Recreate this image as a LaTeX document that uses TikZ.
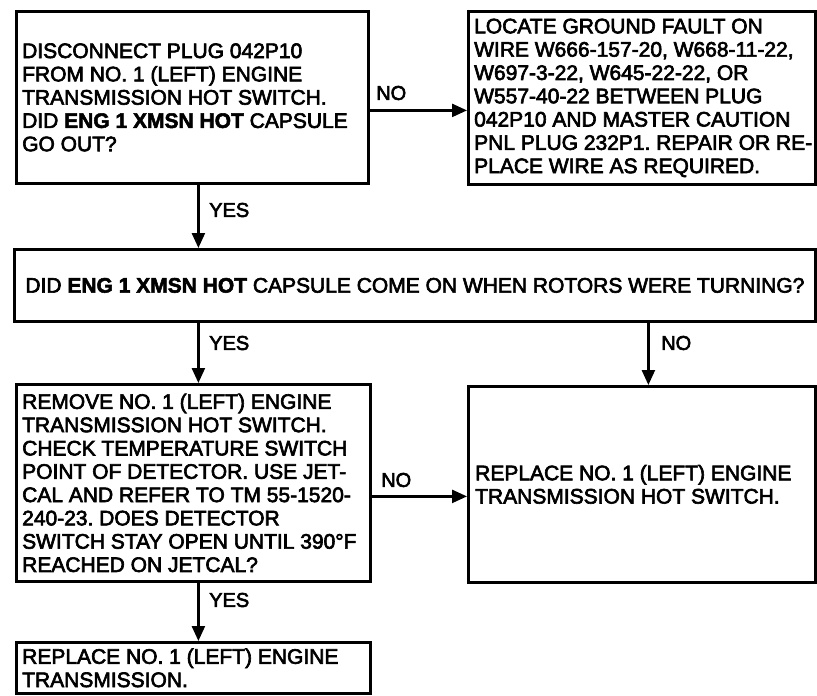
\documentclass[tikz,border=0pt]{standalone}
\usepackage{fontspec}
\setmainfont{Liberation Sans}
\newfontfamily\medf{Liberation Sans}[FakeBold=3]
\newfontfamily\boldf{Liberation Sans Bold}[FakeBold=2.5]
\newcommand{\hb}[1]{{\boldf #1}}
\frenchspacing
\usetikzlibrary{arrows.meta,calc}
\begin{document}
\begin{tikzpicture}[x=1pt,y=-1pt,
  box/.style={draw,line width=2.8pt,inner sep=0pt,anchor=north west},
  txt/.style={anchor=west,inner sep=0pt,align=left,
    font=\medf\frenchspacing\fontsize{21}{23.3}\selectfont},
  lbl/.style={anchor=west,font=\medf\fontsize{20}{23}\selectfont,inner sep=0pt},
  arr/.style={line width=2.4pt,-{Triangle[length=15pt,width=13pt]}}]
\useasboundingbox (0,0) rectangle (817,696);
\fill[white] (0,0) rectangle (817,696);

% boxes
\node[box,minimum width=352pt,minimum height=172pt] (b1) at (15,10) {};
\node[box,minimum width=347pt,minimum height=173pt] (b2) at (467,10) {};
\node[box,minimum width=801pt,minimum height=72pt] (b3) at (13,248) {};
\node[box,minimum width=354pt,minimum height=197pt] (b4) at (15,383) {};
\node[box,minimum width=347pt,minimum height=196pt] (b5) at (467,385) {};
\node[box,minimum width=354pt,minimum height=51pt] (b6) at (15,641) {};

% texts
\node[txt] (t1) at ([xshift=7pt]b1.west)
  {DISCONNECT PLUG 042P10\\
   FROM NO. 1 (LEFT) ENGINE\\
   TRANSMISSION HOT SWITCH.\\
   DID \hb{ENG 1 XMSN HOT} CAPSULE\\
   GO OUT?};
\node[txt] (t2) at ([xshift=7pt]b2.west)
  {LOCATE GROUND FAULT ON\\
   WIRE W666-157-20, W668-11-22,\\
   W697-3-22, W645-22-22, OR\\
   W557-40-22 BETWEEN PLUG\\
   042P10 AND MASTER CAUTION\\
   PNL PLUG 232P1. REPAIR OR RE-\\
   PLACE WIRE AS REQUIRED.};
\node[txt,anchor=center] (t3) at (b3.center)
  {DID \hb{ENG 1 XMSN HOT} CAPSULE COME ON WHEN ROTORS WERE TURNING?};
\node[txt] (t4) at ([xshift=7pt]b4.west)
  {REMOVE NO. 1 (LEFT) ENGINE\\
   TRANSMISSION HOT SWITCH.\\
   CHECK TEMPERATURE SWITCH\\
   POINT OF DETECTOR. USE JET-\\
   CAL AND REFER TO TM 55-1520-\\
   240-23. DOES DETECTOR\\
   SWITCH STAY OPEN UNTIL 390°F\\
   REACHED ON JETCAL?};
\node[txt] (t5) at ([xshift=8pt]b5.west)
  {REPLACE NO. 1 (LEFT) ENGINE\\
   TRANSMISSION HOT SWITCH.};
\node[txt] (t6) at ([xshift=7pt]b6.west)
  {REPLACE NO. 1 (LEFT) ENGINE\\
   TRANSMISSION.};

% connectors
\coordinate (p1) at ([yshift=-13pt]b1.east);
\coordinate (p2) at ([xshift=6pt]b1.south);
\coordinate (p3) at ([xshift=5pt]b4.north);
\coordinate (p4) at ([xshift=6.5pt]b5.north);
\coordinate (p5) at ([yshift=-13.5pt]b4.east);
\coordinate (p6) at ([xshift=5pt]b4.south);

\draw[arr] (p1) -- (p1 -| b2.west);
\draw[arr] (p2) -- (p2 |- b3.north);
\draw[arr] (p3 |- b3.south) -- (p3);
\draw[arr] (p4 |- b3.south) -- (p4);
\draw[arr] (p5) -- (p5 -| b5.west);
\draw[arr] (p6) -- (p6 |- b6.north);

% labels
\node[lbl] (l1) at (376,93) {NO};
\node[lbl] (l2) at (209,210) {YES};
\node[lbl] (l3) at (209,343) {YES};
\node[lbl] (l4) at (661,343) {NO};
\node[lbl] (l5) at (381,480) {NO};
\node[lbl] (l6) at (209,600) {YES};
\end{tikzpicture}
\end{document}
